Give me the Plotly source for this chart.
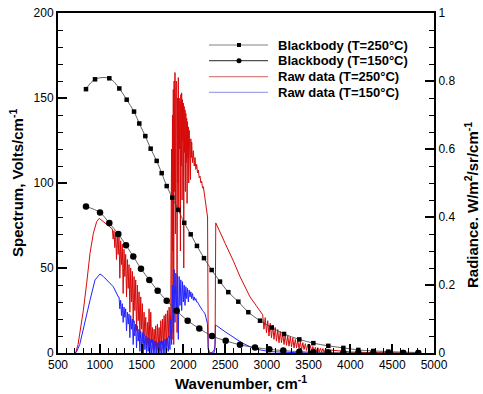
import plotly.graph_objects as go

# ---------------- data ----------------
# Blackbody radiance (right axis, W/m^2/sr/cm^-1)
bb250_x = [835, 943, 1114, 1234, 1322, 1410, 1473, 1545, 1609, 1681, 1741, 1801, 1868, 1940,
           2011, 2088, 2163, 2247, 2339, 2439, 2538, 2658, 2778, 2918, 3058, 3205, 3388, 3556,
           3735, 3915, 4094, 4273, 4453, 4632, 4812]
bb250_y = [0.776, 0.805, 0.808, 0.778, 0.745, 0.710, 0.675, 0.638, 0.601, 0.565, 0.529, 0.491,
           0.457, 0.421, 0.383, 0.349, 0.315, 0.279, 0.244, 0.210, 0.179, 0.151, 0.120, 0.095,
           0.075, 0.056, 0.040, 0.029, 0.021, 0.015, 0.009, 0.006, 0.004, 0.0025, 0.0015]

bb150_x = [835, 1003, 1114, 1222, 1314, 1401, 1493, 1593, 1693, 1801, 1920, 2052, 2191, 2343,
           2507, 2678, 2858, 3029, 3196, 3388, 3555, 3735, 3915, 4094, 4273, 4453, 4632, 4812]
bb150_y = [0.431, 0.413, 0.382, 0.350, 0.317, 0.284, 0.248, 0.215, 0.183, 0.154, 0.124, 0.095,
           0.072, 0.050, 0.036, 0.024, 0.016, 0.011, 0.007, 0.004, 0.0025, 0.0015, 0.001,
           0.0005, 0.0003, 0.0, 0.0, 0.0]

# Raw data T=250 C (left axis, Volts/cm^-1), in segments
red_a_x = [700, 715, 740, 763, 803, 843, 883, 923, 963, 994, 1042, 1102, 1140]
red_a_y = [0, 0.8, 5, 12, 25, 41, 58.6, 70.4, 77.3, 79.2, 77.3, 75.3, 73.5]

red_b_x = [1150, 1160, 1170, 1180, 1190, 1200, 1210, 1220, 1230, 1240, 1250, 1260, 1270, 1280,
           1290, 1300, 1310, 1320, 1330, 1340, 1350, 1360, 1370, 1380, 1390, 1400, 1410, 1420,
           1430, 1440, 1450, 1460, 1470, 1480, 1490, 1500, 1510, 1520, 1530, 1540, 1550, 1560,
           1570, 1580, 1590, 1600, 1610, 1620, 1630, 1640, 1650, 1660, 1670, 1680, 1690, 1700,
           1710, 1720, 1730, 1740, 1750, 1760, 1770, 1780, 1790, 1800, 1810, 1820, 1830, 1840]
red_b_y = [73, 67, 72, 62, 71, 55, 70, 58, 69, 44, 66, 52, 64, 35, 61, 45, 58, 33, 55, 38,
           52, 24, 50, 30, 48, 18, 45, 25, 43, 13, 40, 19, 36, 9, 33, 14, 29, 6, 24, 10,
           21, 3, 18, 5, 26, 3, 24, 6, 15, 2, 14, 4, 16, 1, 17, 3, 15, 1, 19, 5,
           20, 2, 22, 7, 23, 4, 25, 9, 27, 8]

red_c_x = [1850, 1855, 1860, 1865, 1870, 1875, 1880, 1885, 1890, 1895, 1900, 1905, 1910, 1915,
           1920, 1925, 1930, 1935, 1940, 1945, 1950, 1955, 1960, 1965, 1970, 1975, 1980, 1985,
           1990, 1995, 2000, 2005, 2010, 2015, 2020, 2025, 2030, 2035, 2040, 2045, 2050, 2055,
           2060, 2065, 2070, 2075, 2080, 2085, 2090, 2095, 2100]
red_c_y = [28, 90, 120, 8, 140, 60, 155, 5, 160, 95, 165, 70, 150, 160, 158, 12, 150, 100,
           162, 85, 150, 120, 148, 60, 152, 110, 153, 90, 149, 125, 147, 50, 145, 118, 143,
           95, 141, 112, 138, 88, 136, 115, 133, 100, 131, 118, 128, 102, 126, 115, 124]

red_d_x = [2110, 2120, 2130, 2140, 2150, 2160, 2170, 2180, 2190, 2200, 2210, 2220, 2230, 2240,
           2250, 2260, 2270, 2280, 2290]
red_d_y = [112, 119, 110, 115, 108, 111, 106, 107.6, 103, 104, 100, 101, 97, 97.8, 94, 92,
           88, 83, 80]

red_e_x = [2298, 2310, 2330, 2350, 2370, 2380, 2388, 2400, 2450, 2500, 2559, 2600, 2678, 2750,
           2798, 2870, 2938]
red_e_y = [3, 1, 0, 0.5, 2, 5, 76.5, 75, 70, 64.5, 58.6, 54, 45, 38, 33, 28, 23.3]

red_f_x = [2950, 2965, 2980, 2995, 3010, 3025, 3040, 3055, 3070, 3085, 3100, 3115, 3130, 3145,
           3160, 3175, 3190, 3205, 3220, 3235, 3250, 3265, 3280, 3295, 3310, 3325, 3340, 3355,
           3370, 3385, 3400, 3415, 3430, 3445, 3460, 3475, 3490, 3505, 3520, 3535, 3550, 3565,
           3580, 3595, 3610, 3625, 3640, 3655, 3670, 3685, 3700]
red_f_y = [22.5, 14, 20.8, 12, 19, 10, 17.5, 9, 16.3, 8, 15, 7, 13.8, 6, 12.7, 6, 11.8, 5,
           11, 4.5, 10.2, 4, 9.5, 3.5, 8.8, 3, 8, 3, 7.4, 2.5, 6.7, 2, 6.1, 2, 5.5, 1.5,
           5, 1.5, 4.4, 1, 3.8, 1, 3.4, 0.8, 3.1, 0.5, 2.8, 0.5, 2.6, 0.3, 2.3]

red_g_x = [3750, 3800, 3850, 3900, 3950, 4000, 4100, 4200, 4300, 4450, 4600]
red_g_y = [1.8, 1.5, 1.2, 1.0, 0.8, 0.6, 0.4, 0.25, 0.15, 0.05, 0]

# Raw data T=150 C (left axis)
blue_a_x = [700, 720, 760, 803, 843, 883, 943, 1003, 1043, 1083, 1122, 1162, 1222]
blue_a_y = [0, 0.5, 5, 13.5, 22, 31, 43, 46.5, 45, 43, 41, 39, 33]

blue_b_x = [1230, 1240, 1250, 1260, 1270, 1280, 1290, 1300, 1310, 1320, 1330, 1340, 1350, 1360,
            1370, 1380, 1390, 1400, 1410, 1420, 1430, 1440, 1450, 1460, 1470, 1480, 1490, 1500,
            1510, 1520, 1530, 1540, 1550, 1560, 1570, 1580, 1590, 1600, 1610, 1620, 1630, 1640,
            1650, 1660, 1670, 1680, 1690, 1700, 1710, 1720, 1730, 1740, 1750, 1760, 1770, 1780,
            1790, 1800, 1810, 1820, 1830, 1840]
blue_b_y = [33, 26, 31, 22, 29, 18, 27, 21, 26, 13, 24, 17, 23, 9, 22, 14, 20, 5, 19, 10,
            17, 3, 16, 7, 14, 1, 13, 4, 12, 0, 11, 2, 10, 0, 9, 1, 9, 0, 8, 0,
            8, 0, 7, 0, 7, 0, 6, 0, 7, 0, 7, 0, 7, 0, 8, 0, 8, 1, 9, 1, 10, 2]

blue_c_x = [1850, 1860, 1870, 1880, 1890, 1900, 1910, 1920, 1930, 1940, 1950, 1960, 1970, 1980,
            1990, 2000, 2010, 2020, 2030, 2040, 2050, 2060, 2070, 2080, 2090, 2100, 2110, 2120,
            2130, 2140, 2150, 2160, 2170, 2180, 2190, 2200, 2210, 2220, 2230, 2240, 2250, 2260,
            2270, 2280]
blue_c_y = [20, 5, 40, 12, 49, 18, 47, 24, 46, 8, 45, 28, 43, 25, 42, 30, 40, 28, 39, 32,
            38, 30, 37, 33, 36, 32, 35, 31, 33, 31, 32, 30, 30, 29, 28, 27.5, 27, 26, 25, 24.5,
            24, 23, 21, 19]

blue_d_x = [2288, 2298, 2310, 2340, 2365, 2378, 2385, 2400, 2450, 2500, 2559, 2650, 2700, 2798,
            2900, 3038, 3200, 3400, 3700]
blue_d_y = [17.5, 2, 0, 0, 0, 2, 16.5, 16, 14, 12.5, 10.6, 7.5, 6, 3.7, 2, 0.8, 0.3, 0.1, 0]

legend_names = ["Blackbody (T=250\u00b0C)", "Blackbody (T=150\u00b0C)",
                "Raw data (T=250\u00b0C)", "Raw data (T=150\u00b0C)"]

x_ticks = [500, 1000, 1500, 2000, 2500, 3000, 3500, 4000, 4500, 5000]

red_x = red_a_x + red_b_x + red_c_x + red_d_x + red_e_x + red_f_x + red_g_x
red_y = red_a_y + red_b_y + red_c_y + red_d_y + red_e_y + red_f_y + red_g_y
blue_x = blue_a_x + blue_b_x + blue_c_x + blue_d_x
blue_y = blue_a_y + blue_b_y + blue_c_y + blue_d_y

# ---------------- figure ----------------
FONT = "Arial, Liberation Sans, sans-serif"
fig = go.Figure()

fig.add_trace(go.Scatter(x=red_x, y=red_y, mode="lines", name=legend_names[2],
                         line=dict(color="rgb(215,10,10)", width=1), showlegend=False))
fig.add_trace(go.Scatter(x=blue_x, y=blue_y, mode="lines", name=legend_names[3],
                         line=dict(color="rgb(35,35,255)", width=1), showlegend=False))
fig.add_trace(go.Scatter(x=bb250_x, y=bb250_y, yaxis="y2", mode="lines+markers",
                         name=legend_names[0],
                         line=dict(color="rgb(60,60,60)", width=0.8, shape="spline"),
                         marker=dict(symbol="square", size=4.5, color="black"),
                         showlegend=False))
fig.add_trace(go.Scatter(x=bb150_x, y=bb150_y, yaxis="y2", mode="lines+markers",
                         name=legend_names[1],
                         line=dict(color="rgb(60,60,60)", width=0.8, shape="spline"),
                         marker=dict(symbol="circle", size=6.5, color="black"),
                         showlegend=False))

# plot-area pixel frame and helpers for paper coordinates
L, R, T, B = 58, 434, 13, 353
def px(xp):
    return (xp - L) / (R - L)
def py(yp):
    return (B - yp) / (B - T)

rows = [45, 60.7, 76.7, 92.3]
line_cols = ["rgb(130,130,130)", "rgb(80,80,80)", "rgb(215,130,130)", "rgb(165,165,230)"]
shapes = []
annotations = []
for i, yy in enumerate(rows):
    shapes.append(dict(type="line", xref="paper", yref="paper", x0=px(209), x1=px(268),
                       y0=py(yy), y1=py(yy), line=dict(color=line_cols[i], width=1.2)))
    annotations.append(dict(xref="paper", yref="paper", x=px(276), y=py(yy),
                            xanchor="left", yanchor="middle", showarrow=False,
                            text="<b>" + legend_names[i] + "</b>",
                            font=dict(family=FONT, size=13, color="black")))
shapes.append(dict(type="rect", xref="paper", yref="paper",
                   x0=px(237), x1=px(241), y0=py(rows[0] + 2), y1=py(rows[0] - 2),
                   fillcolor="black", line=dict(width=0)))
shapes.append(dict(type="circle", xref="paper", yref="paper",
                   x0=px(236.5), x1=px(241.5), y0=py(rows[1] + 2.5), y1=py(rows[1] - 2.5),
                   fillcolor="black", line=dict(width=0)))

# axis titles
annotations.append(dict(xref="paper", yref="paper", x=px(241), y=py(383),
                        xanchor="center", yanchor="middle", showarrow=False,
                        text="<b>Wavenumber, cm<sup>-1</sup></b>",
                        font=dict(family=FONT, size=15, color="black")))
annotations.append(dict(xref="paper", yref="paper", x=px(16), y=py(183),
                        xanchor="center", yanchor="middle", showarrow=False, textangle=-90,
                        text="<b>Spectrum, Volts/cm<sup>-1</sup></b>",
                        font=dict(family=FONT, size=15, color="black")))
annotations.append(dict(xref="paper", yref="paper", x=px(471), y=py(205),
                        xanchor="center", yanchor="middle", showarrow=False, textangle=-90,
                        text="<b>Radiance. W/m<sup>2</sup>/sr/cm<sup>-1</sup></b>",
                        font=dict(family=FONT, size=15, color="black")))

axis_common = dict(showgrid=False, zeroline=False, showline=True, linecolor="black",
                   linewidth=2, ticks="inside", ticklen=9, tickwidth=1.5, tickcolor="black",
                   automargin=False,
                   tickfont=dict(family=FONT, size=12, color="black"))

fig.update_layout(
    width=483, height=394,
    margin=dict(l=L, r=483 - R, t=T, b=394 - B),
    paper_bgcolor="white", plot_bgcolor="white",
    font=dict(family=FONT, size=12, color="black"),
    showlegend=False,
    shapes=shapes,
    annotations=annotations,
    xaxis=dict(range=[500, 5000], tickvals=x_ticks, mirror=True,
               minor=dict(dtick=100, ticks="inside", ticklen=5, tickwidth=1, tickcolor="black"),
               **axis_common),
    yaxis=dict(range=[0, 200], dtick=50,
               minor=dict(dtick=10, ticks="inside", ticklen=5, tickwidth=1, tickcolor="black"),
               **axis_common),
    yaxis2=dict(range=[0, 1], dtick=0.2, overlaying="y", side="right",
                minor=dict(dtick=0.05, ticks="inside", ticklen=5, tickwidth=1, tickcolor="black"),
                **axis_common),
)

fig.write_html("out.html",
               config={"displayModeBar": False},
               post_script="document.body.style.margin='0';document.body.style.padding='0';")
